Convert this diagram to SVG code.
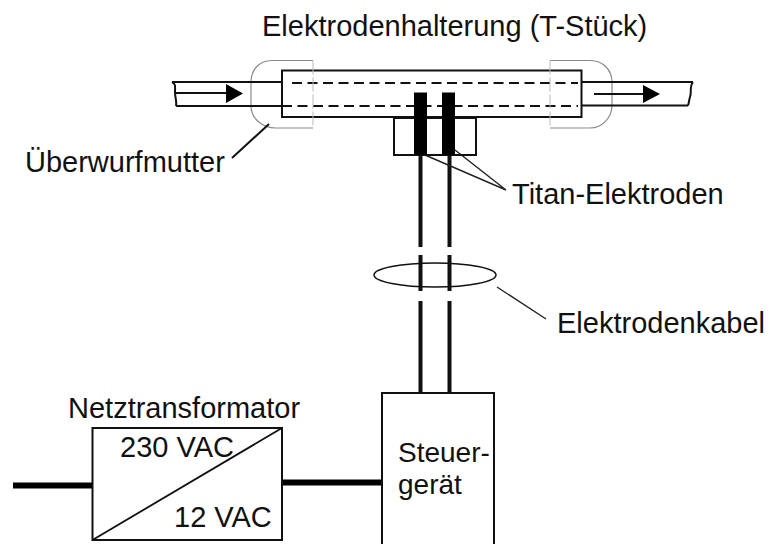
<svg xmlns="http://www.w3.org/2000/svg" width="771" height="544" viewBox="0 0 771 544">
<style>
text{font-family:"Liberation Sans",Arial,sans-serif;font-size:29px;fill:#111}
.b{fill:none;stroke:#111;stroke-width:2}
.t{fill:#fff;stroke:#111;stroke-width:2}
.n{fill:none;stroke:#8a8a8a;stroke-width:1.200}
.w{fill:none;stroke:#111;stroke-width:4}
.d{fill:none;stroke:#111;stroke-width:2;stroke-dasharray:10 5.500}
.l{fill:none;stroke:#222;stroke-width:1.400}
</style>
<rect width="771" height="544" fill="#fff"/>
<g id="t-stueck">
<rect class="t" x="282" y="70.500" width="299.500" height="46.500"/>
<path class="d" d="M292 83H578M282 106H578"/>
</g>
<g id="ueberwurfmutter-links">
<path class="n" d="M313 60.500H272C259 60.500 251 70 251 82V106C251 118 262 128 276 128H313"/>
<path d="M313 60.500V128" fill="none" stroke="#bbb" stroke-width="1" stroke-dasharray="14 3"/>
</g>
<g id="ueberwurfmutter-rechts">
<path class="n" d="M550 60.500H590C603 60.500 612 70 612 82V105C612 118 602 128 590 128H550"/>
<path d="M550 60.500V128" fill="none" stroke="#bbb" stroke-width="1" stroke-dasharray="14 3"/>
</g>
<g id="connectors">
<path class="b" d="M172 82H282M176 106H282M172 82C176 84 175 87 175 92C175 98 177 101 176 106"/>
<path class="b" d="M581 82H693M581 105.500H688M693 82C689 87 692 92 690 97C689 100 689 103 688 105.500"/>
<path class="b" d="M176 93H228M594 94H646"/>
<path d="M226 84L243 93.500L226 103Z M643 85L660 94L643 103Z" fill="#000"/>
<path class="w" d="M420.500 155V247M420.500 255V291M420.500 301V393M449.500 155V247M449.500 255V291M449.500 301V393"/>
<path d="M13 485.500H92M282 482.500H382" fill="none" stroke="#000" stroke-width="6"/>
<path class="b" d="M269 124L232 158"/>
<path class="l" d="M425 155L506 190M455 150L506 190"/>
<path class="l" d="M497 287L546 319"/>
</g>
<g id="elektrodenhalter">
<rect x="394" y="118" width="82" height="37" fill="none" stroke="#111" stroke-width="2"/>
<rect x="414" y="92.500" width="13" height="62.500" fill="#000"/>
<rect x="442" y="92.500" width="13" height="62.500" fill="#000"/>
</g>
<g id="kabel-ring">
<ellipse class="b" style="stroke-width:1.500" cx="435" cy="275" rx="61" ry="12"/>
</g>
<g id="netztransformator">
<rect x="92.500" y="428" width="189.500" height="112" fill="#fff" stroke="#111" stroke-width="2"/>
<text x="120" y="457">230 VAC</text>
<text x="174" y="527">12 VAC</text>
<path d="M92.500 540L282 428" fill="none" stroke="#111" stroke-width="1.800"/>
<text x="68" y="418">Netztransformator</text>
</g>
<g id="steuergeraet">
<rect x="382" y="393" width="112" height="160" fill="#fff" stroke="#111" stroke-width="2"/>
<text x="398" y="462" style="font-size:28px">Steuer-</text>
<text x="398" y="494" style="font-size:28px">gerät</text>
</g>
<g id="labels">
<text x="262" y="36">Elektrodenhalterung (T-Stück)</text>
<text x="25" y="172">Überwurfmutter</text>
<text x="512" y="204">Titan-Elektroden</text>
<text x="557" y="333">Elektrodenkabel</text>
</g>
</svg>
